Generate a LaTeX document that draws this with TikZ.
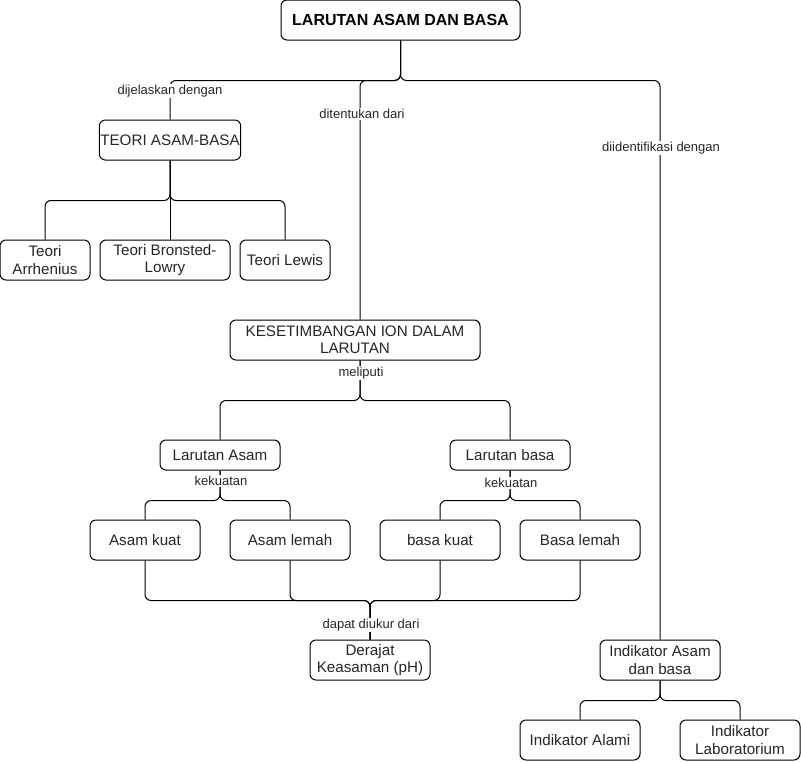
\documentclass[tikz,border=0pt]{standalone}
\usepackage{fontspec}
\setmainfont{Liberation Sans}
\newcommand{\nodefnt}{\fontsize{15.2}{17.5}\selectfont}
\newcommand{\lblfnt}{\fontsize{13}{15}\selectfont}
\newcommand{\ttlfnt}{\fontsize{16}{19}\selectfont\bfseries}
\begin{document}
\begin{tikzpicture}[x=1pt,y=-1pt,
  box/.style={draw, rounded corners=6pt, line width=1pt, align=center, font=\nodefnt, inner sep=1pt, text=black!85},
  conn/.style={line width=1pt, rounded corners=6pt},
  lbl/.style={fill=white, font=\lblfnt, inner sep=1pt, text=black!85}]
\useasboundingbox (0,0) rectangle (801,761);
% nodes
\node[box, font=\ttlfnt, text=black, minimum width=239pt, minimum height=40pt] (t) at (400.5,20) {LARUTAN ASAM DAN BASA};
\node[box, minimum width=140pt, minimum height=40pt] (teori) at (170,140) {TEORI ASAM-BASA};
\node[box, minimum width=90pt, minimum height=40pt] (arr) at (45,260) {Teori\\Arrhenius};
\node[box, minimum width=130pt, minimum height=40pt] (bro) at (165,260) {Teori Bronsted-\\Lowry};
\node[box, minimum width=90pt, minimum height=40pt] (lew) at (285,260) {Teori Lewis};
\node[box, minimum width=250pt, minimum height=40pt] (kes) at (355,340) {KESETIMBANGAN ION DALAM\\LARUTAN};
\node[box, minimum width=120pt, minimum height=30pt] (la) at (220,455) {Larutan Asam};
\node[box, minimum width=120pt, minimum height=30pt] (lb) at (510,455) {Larutan basa};
\node[box, minimum width=110pt, minimum height=40pt] (ak) at (145,540) {Asam kuat};
\node[box, minimum width=120pt, minimum height=40pt] (al) at (290,540) {Asam lemah};
\node[box, minimum width=120pt, minimum height=40pt] (bk) at (440,540) {basa kuat};
\node[box, minimum width=120pt, minimum height=40pt] (blm) at (580,540) {Basa lemah};
\node[box, minimum width=120pt, minimum height=40pt] (ph) at (370,660) {Derajat\\Keasaman (pH)};
\node[box, minimum width=120pt, minimum height=40pt] (ind) at (660,660) {Indikator Asam\\dan basa};
\node[box, minimum width=120pt, minimum height=40pt] (ia) at (580,740) {Indikator Alami};
\node[box, minimum width=120pt, minimum height=40pt] (il) at (740,740) {Indikator\\Laboratorium};
% connectors
\draw[conn] (t.south) -- ++(0,40) -| (teori.north);
\draw[conn] (t.south) -- ++(0,40) -| ([xshift=5pt]kes.north);
\draw[conn] (t.south) -- ++(0,40) -| (ind.north);
\draw[conn] (teori.south) -- ++(0,40) -| (arr.north);
\draw[conn] (teori.south) -- (teori.south |- bro.north);
\draw[conn] (teori.south) -- ++(0,40) -| (lew.north);
\draw[conn] ([xshift=5pt]kes.south) -- ++(0,40) -| (la.north);
\draw[conn] ([xshift=5pt]kes.south) -- ++(0,40) -| (lb.north);
\draw[conn] (la.south) -- ++(0,30) -| (ak.north);
\draw[conn] (la.south) -- ++(0,30) -| (al.north);
\draw[conn] (lb.south) -- ++(0,30) -| (bk.north);
\draw[conn] (lb.south) -- ++(0,30) -| (blm.north);
\draw[conn] (ak.south) -- ++(0,40) -| (ph.north);
\draw[conn] (al.south) -- ++(0,40) -| (ph.north);
\draw[conn] (bk.south) -- ++(0,40) -| (ph.north);
\draw[conn] (blm.south) -- ++(0,40) -| (ph.north);
\draw[conn] (ind.south) -- ++(0,20) -| (ia.north);
\draw[conn] (ind.south) -- ++(0,20) -| (il.north);
% labels
\node[lbl] (l1) at (170,91) {dijelaskan dengan};
\node[lbl] (l2) at (362,114) {ditentukan dari};
\node[lbl] (l3) at (661,148) {diidentifikasi dengan};
\node[lbl] (l4) at (361,373) {meliputi};
\node[lbl] (l5) at (221,481) {kekuatan};
\node[lbl] (l6) at (511,483) {kekuatan};
\node[lbl] (l7) at (371,625) {dapat diukur dari};
\end{tikzpicture}
\end{document}
